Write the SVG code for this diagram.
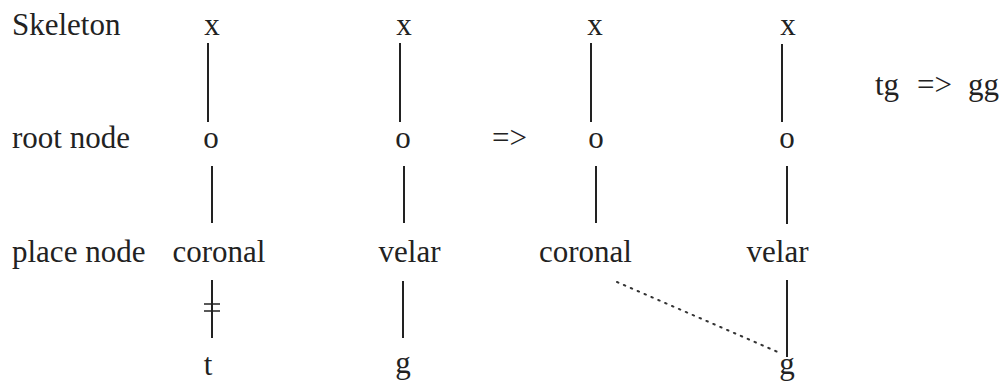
<svg xmlns="http://www.w3.org/2000/svg" width="1007" height="384" viewBox="0 0 1007 384">
<style>
text{font-family:"Liberation Serif","Times New Roman",serif;font-size:31px;fill:#222}
.m{text-anchor:middle}
.l{stroke:#222;stroke-width:2;fill:none}
.d{stroke:#333;stroke-width:2;stroke-dasharray:1.5 6;stroke-linecap:round;fill:none}
</style>
<rect width="1007" height="384" fill="#fff"/>
<g id="row-labels">
<text x="12" y="35">Skeleton</text>
<text x="12" y="148">root node</text>
<text x="12" y="262">place node</text>
</g>
<g id="col1">
<text class="m" x="212" y="35">x</text>
<text class="m" x="211" y="148">o</text>
<text class="m" x="219" y="262">coronal</text>
<text class="m" x="208" y="375">t</text>
</g>
<g id="col2">
<text class="m" x="404" y="35">x</text>
<text class="m" x="403" y="148">o</text>
<text class="m" x="409.5" y="262">velar</text>
<text class="m" x="403" y="373">g</text>
</g>
<g id="arrow">
<text x="492" y="148">=&gt;</text>
</g>
<g id="col3">
<text class="m" x="595" y="35">x</text>
<text class="m" x="596" y="148">o</text>
<text class="m" x="585.5" y="262">coronal</text>
</g>
<g id="col4">
<text class="m" x="788" y="35">x</text>
<text class="m" x="787" y="148">o</text>
<text class="m" x="777.5" y="262">velar</text>
<text class="m" x="787" y="374">g</text>
</g>
<g id="summary">
<text x="875" y="95">tg</text>
<text x="917" y="95">=&gt;</text>
<text x="968" y="95">gg</text>
</g>
<g id="connectors">
<line class="l" x1="208" y1="43" x2="208" y2="122"/>
<line class="l" x1="212" y1="166" x2="212" y2="223"/>
<line class="l" x1="212" y1="280" x2="212" y2="338"/>
<line class="l" x1="204" y1="304" x2="220" y2="304" style="stroke-width:1.5"/>
<line class="l" x1="204" y1="311" x2="220" y2="311" style="stroke-width:1.5"/>
<line class="l" x1="400" y1="43" x2="400" y2="122"/>
<line class="l" x1="404" y1="166" x2="404" y2="223"/>
<line class="l" x1="403" y1="281" x2="403" y2="338"/>
<line class="l" x1="591" y1="43" x2="591" y2="122"/>
<line class="l" x1="596" y1="166" x2="596" y2="223"/>
<line class="l" x1="782" y1="44" x2="782" y2="122"/>
<line class="l" x1="787" y1="166" x2="787" y2="224"/>
<line class="l" x1="787" y1="280" x2="787" y2="357"/>
<line class="d" x1="617" y1="282" x2="780" y2="353"/>
</g>
</svg>
